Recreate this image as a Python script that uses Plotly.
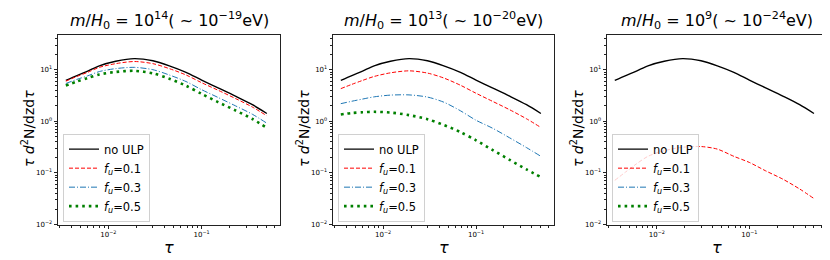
import plotly.graph_objects as go

# ---------------- data ----------------
tau = [0.0035, 0.0046, 0.006, 0.008, 0.012, 0.019, 0.03, 0.045, 0.068, 0.1, 0.15, 0.23, 0.35, 0.5]

no_ulp = [6.2, 7.7, 9.4, 11.9, 14.6, 16.4, 14.9, 11.9, 8.9, 6.3, 4.45, 3.08, 2.1, 1.42]

# panel 1: m/H0 = 1e14
p1_f01 = [6.0, 7.4, 8.9, 11.1, 13.1, 14.4, 13.1, 10.5, 7.9, 5.6, 4.0, 2.77, 1.89, 1.28]
p1_f03 = [5.4, 6.5, 7.6, 9.2, 10.5, 11.1, 10.0, 7.9, 5.9, 4.1, 2.9, 2.0, 1.37, 0.92]
p1_f05 = [4.95, 5.9, 6.9, 8.1, 9.05, 9.5, 8.5, 6.7, 4.9, 3.4, 2.36, 1.63, 1.11, 0.75]

# panel 2: m/H0 = 1e13
p2_f01 = [4.3, 5.2, 6.2, 7.4, 8.7, 9.5, 8.6, 6.9, 5.0, 3.5, 2.45, 1.68, 1.12, 0.76]
p2_f03 = [2.2, 2.45, 2.7, 2.98, 3.22, 3.25, 2.95, 2.35, 1.6, 1.05, 0.74, 0.48, 0.31, 0.21]
p2_f05 = [1.36, 1.45, 1.5, 1.53, 1.48, 1.32, 1.1, 0.85, 0.62, 0.43, 0.28, 0.18, 0.117, 0.083]

# panel 3: m/H0 = 1e9
p3_f01 = [0.072, 0.105, 0.15, 0.21, 0.27, 0.315, 0.325, 0.29, 0.21, 0.16, 0.11, 0.076, 0.049, 0.032]
p3_f03 = [None] * len(tau)
p3_f05 = [None] * len(tau)

titles = [
    "<i>m</i>/<i>H</i><sub>0</sub> = 10<sup>14</sup>( ~ 10<sup>−19</sup>eV)",
    "<i>m</i>/<i>H</i><sub>0</sub> = 10<sup>13</sup>( ~ 10<sup>−20</sup>eV)",
    "<i>m</i>/<i>H</i><sub>0</sub> = 10<sup>9</sup>( ~ 10<sup>−24</sup>eV)",
]
series_names = ["no ULP", "<i>f<sub>u</sub></i>=0.1", "<i>f<sub>u</sub></i>=0.3", "<i>f<sub>u</sub></i>=0.5"]
x_tickvals = [0.01, 0.1]
x_ticktext = ["10<sup>−2</sup>", "10<sup>−1</sup>"]
y_tickvals = [0.01, 0.1, 1, 10]
y_ticktext = ["10<sup>−2</sup>", "10<sup>−1</sup>", "10<sup>0</sup>", "10<sup>1</sup>"]
x_label = "<i>τ</i>"
y_label = "<i>τ</i> <i>d</i><sup>2</sup>N/dzd<i>τ</i>"

panels = [
    [no_ulp, p1_f01, p1_f03, p1_f05],
    [no_ulp, p2_f01, p2_f03, p2_f05],
    [no_ulp, p3_f01, p3_f03, p3_f05],
]

# ---------------- styling ----------------
W, H = 830, 260
FONT = "DejaVu Sans"
styles = [
    dict(color="black", width=1.4, dash="solid"),
    dict(color="#ff0000", width=1.0, dash="4px,2px"),
    dict(color="#1f77b4", width=1.0, dash="6px,2px,1px,2px"),
    dict(color="#008000", width=2.6, dash="2.6px,4px"),
]
xdom_px = [(50, 272), (325, 546), (599, 819)]
ytop_px, ybot_px = 27, 220
ydom = [(H - ybot_px) / H, (H - ytop_px) / H]

x_minor = [m * 10 ** e for e in (-3, -2, -1) for m in range(2, 10) if 0.0029 < m * 10 ** e < 0.69]
y_minor = [m * 10 ** e for e in (-2, -1, 0, 1) for m in range(2, 10) if m * 10 ** e < 48]

fig = go.Figure()
layout = dict(
    width=W, height=H, margin=dict(l=0, r=0, t=0, b=0),
    paper_bgcolor="white", plot_bgcolor="white",
    font=dict(family=FONT, color="black"),
    annotations=[],
)

for i, (vals, (x0, x1)) in enumerate(zip(panels, xdom_px)):
    n = "" if i == 0 else str(i + 1)
    xa, ya = "x" + n, "y" + n
    leg = "legend" + n
    for k, (v, st) in enumerate(zip(vals, styles)):
        fig.add_trace(go.Scatter(
            x=tau, y=v, mode="lines", name=series_names[k],
            line=dict(color=st["color"], width=st["width"], dash=st["dash"], shape="spline", smoothing=0.8),
            xaxis=xa, yaxis=ya, legend=leg, showlegend=True,
        ))
    axis_common = dict(
        type="log", showline=True, linecolor="#222222", linewidth=0.8, mirror=True,
        showgrid=False, zeroline=False, ticks="outside", ticklen=3.5, tickwidth=0.8,
        tickcolor="#222222", tickfont=dict(size=7, family=FONT),
        minor=dict(ticks="outside", ticklen=2, tickwidth=0.6, tickcolor="#222222", showgrid=False),
    )
    xax = dict(axis_common, domain=[x0 / W, x1 / W], range=[-2.54, -0.16], anchor=ya,
               tickmode="array", tickvals=x_tickvals, ticktext=x_ticktext)
    xax["minor"] = dict(axis_common["minor"], tickmode="array", tickvals=x_minor)
    yax = dict(axis_common, domain=ydom, range=[-2, 1.68], anchor=xa,
               tickmode="array", tickvals=y_tickvals, ticktext=y_ticktext)
    yax["minor"] = dict(axis_common["minor"], tickmode="array", tickvals=y_minor)
    layout["xaxis" + n] = xax
    layout["yaxis" + n] = yax
    layout[leg] = dict(
        x=(x0 + 5) / W, y=(H - 217) / H, xanchor="left", yanchor="bottom",
        bgcolor="rgba(255,255,255,0.8)", bordercolor="#d0d0d0", borderwidth=1,
        font=dict(size=11.5, family=FONT), tracegroupgap=0, itemwidth=30,
    )
    cx = (x0 + x1) / 2 / W
    layout["annotations"] += [
        dict(text=titles[i], x=cx, y=(H - 13) / H, xref="paper", yref="paper",
             showarrow=False, xanchor="center", yanchor="middle", font=dict(size=16, family=FONT)),
        dict(text=x_label, x=cx, y=(H - 243) / H, xref="paper", yref="paper",
             showarrow=False, xanchor="center", yanchor="middle", font=dict(size=16, family=FONT)),
        dict(text=y_label, x=(x0 - 30) / W, y=(H - 123) / H, xref="paper", yref="paper",
             showarrow=False, xanchor="center", yanchor="middle", textangle=-90,
             font=dict(size=14, family=FONT)),
    ]

fig.update_layout(**layout)
fig.write_html("out.html")
